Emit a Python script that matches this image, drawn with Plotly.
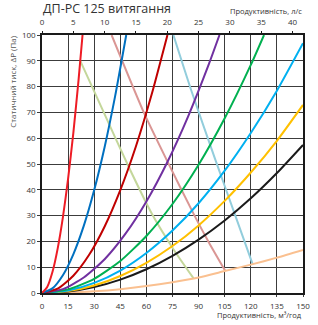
import plotly.graph_objects as go

# ---- data (Q in m3/h, P in Pa) ----
q_red = [0, 3, 6, 9, 12, 15, 18, 21, 23.3]
p_red = [0, 2.3, 8.1, 17.2, 29.3, 44.3, 62.0, 82.5, 100]

q_blue = [0, 6, 12, 18, 24, 30, 36, 42, 48.4]
p_blue = [0, 1.8, 6.9, 15.0, 26.0, 39.9, 56.6, 76.2, 100]

q_darkred = [0, 9, 18, 27, 36, 45, 54, 63, 72.1]
p_darkred = [0, 1.7, 6.7, 14.7, 25.8, 39.9, 56.9, 76.9, 100]

q_purple = [0, 12, 24, 36, 48, 60, 72, 84, 96, 102]
p_purple = [0, 1.5, 6.0, 13.1, 23.0, 35.5, 50.7, 68.5, 88.9, 100]

q_green = [0, 15, 30, 45, 60, 75, 90, 105, 120, 127.6]
p_green = [0, 1.4, 5.5, 12.4, 22.1, 34.5, 49.7, 67.7, 88.4, 100]

q_full = [0, 15, 30, 45, 60, 75, 90, 105, 120, 135, 150]
p_skyblue = [0, 0.97, 3.9, 8.7, 15.5, 24.2, 34.8, 47.4, 62.0, 78.4, 96.8]
p_orange = [0, 0.73, 2.9, 6.6, 11.7, 18.2, 26.2, 35.7, 46.7, 59.0, 72.9]
p_black = [0, 0.57, 2.3, 5.2, 9.2, 14.4, 20.7, 28.1, 36.7, 46.5, 57.4]
p_peach = [0, 0.17, 0.67, 1.5, 2.7, 4.2, 6.0, 8.5, 11.0, 13.7, 16.7]

q_lgreen = [22.0, 35.5, 49.4, 63.3, 76.0, 87.2]
p_lgreen = [90.0, 70.0, 49.5, 30.5, 16.5, 5.6]

q_pink = [40.0, 58.7, 71.7, 87.5, 96.0, 105.3]
p_pink = [100, 69.7, 51.5, 30.2, 19.5, 8.6]

q_lblue = [75.5, 85.7, 99.7, 111.0, 121.1]
p_lblue = [100, 78.7, 51.5, 30.2, 11.1]

x_ticks = [0, 15, 30, 45, 60, 75, 90, 105, 120, 135, 150]
y_ticks = [0, 10, 20, 30, 40, 50, 60, 70, 80, 90, 100]
top_ticks = [0, 5, 10, 15, 20, 25, 30, 35, 40]
ls_factor = 3.6

series = [
    (q_lgreen, p_lgreen, '#C4D79B'),
    (q_pink, p_pink, '#DA9694'),
    (q_lblue, p_lblue, '#92CDDC'),
    (q_full, p_peach, '#FAC090'),
    (q_full, p_black, '#1A1A1A'),
    (q_full, p_orange, '#FFC000'),
    (q_full, p_skyblue, '#00B0F0'),
    (q_green, p_green, '#00B050'),
    (q_purple, p_purple, '#7030A0'),
    (q_darkred, p_darkred, '#C00000'),
    (q_blue, p_blue, '#0070C0'),
    (q_red, p_red, '#EE1C25'),
]

fig = go.Figure()
for qx, py, col in series:
    fig.add_trace(go.Scatter(x=qx, y=py, mode='lines',
                             line=dict(color=col, width=2, shape='spline', smoothing=0.6),
                             hoverinfo='skip', showlegend=False))

# invisible trace for top axis
fig.add_trace(go.Scatter(x=[0], y=[0], xaxis='x2', mode='markers',
                         marker=dict(opacity=0), hoverinfo='skip', showlegend=False))

font_fam = 'Open Sans, Noto Sans, sans-serif'
grid_col = '#3C3C3C'
fig.update_layout(
    width=318, height=325,
    margin=dict(l=42, r=8, t=35, b=32),
    paper_bgcolor='white', plot_bgcolor='white',
    font=dict(family=font_fam, size=8, color='#333333'),
    xaxis=dict(range=[0, 150], tickvals=x_ticks, showgrid=True, gridcolor=grid_col, gridwidth=1,
               showline=True, linecolor='#1A1A1A', linewidth=1.5, mirror=True,
               ticks='outside', ticklen=2, tickcolor=grid_col, zeroline=False,
               ticklabelstandoff=3,
               tickfont=dict(size=8, color='#333333')),
    yaxis=dict(range=[0, 100], tickvals=y_ticks, showgrid=True, gridcolor=grid_col, gridwidth=1,
               showline=True, linecolor='#1A1A1A', linewidth=1.5, mirror=True,
               ticks='outside', ticklen=3, tickcolor=grid_col, zeroline=False,
               tickfont=dict(size=8, color='#333333')),
    xaxis2=dict(range=[0, 150 / ls_factor], tickvals=top_ticks, overlaying='x', side='top',
                anchor='y', showgrid=False, showline=False, ticks='outside', ticklen=3,
                tickcolor='#1A1A1A', zeroline=False, ticklabelstandoff=3,
                tickfont=dict(size=8, color='#333333')),
    annotations=[
        dict(text='ДП-РС 125 витягання', xref='paper', yref='paper', x=0, y=1.1027,
             xanchor='left', yanchor='middle', showarrow=False, borderpad=0,
             font=dict(size=12.5, color='#333333', family=font_fam)),
        dict(text='Продуктивність, л/с', xref='paper', yref='paper', x=1, y=1.0912,
             xanchor='right', yanchor='middle', showarrow=False, borderpad=0,
             font=dict(size=7.5, color='#333333', family=font_fam)),
        dict(text='Продуктивність, м³/год', xref='paper', yref='paper', x=1, y=-0.086,
             xanchor='right', yanchor='middle', showarrow=False, borderpad=0,
             font=dict(size=7.5, color='#333333', family=font_fam)),
        dict(text='Статичний тиск, ΔР (Па)', xref='paper', yref='paper', x=-0.116, y=1.0,
             xanchor='center', yanchor='top', textangle=-90, showarrow=False, borderpad=0,
             font=dict(size=8, color='#555555', family=font_fam)),
    ],
)

fig.write_html('out.html', config={'displayModeBar': False},
               post_script="document.body.style.margin='0';document.body.style.padding='0';")
